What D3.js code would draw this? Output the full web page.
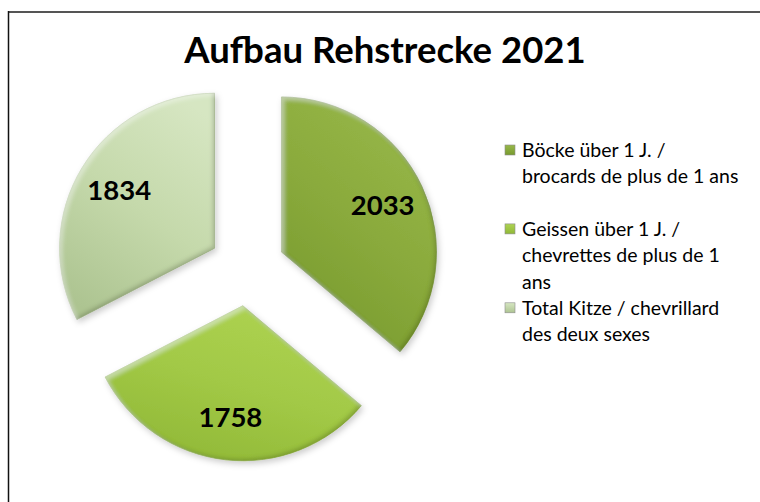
<!DOCTYPE html>
<html>
<head>
<meta charset="utf-8">
<script src="https://cdn.jsdelivr.net/npm/d3@7"></script>
<style>
  html, body { margin: 0; padding: 0; background: #fff; }
  svg { display: block; }
</style>
</head>
<body>
<svg id="chart" width="760" height="502"></svg>
<script>
// Roe deer harvest structure 2021
const title = "Aufbau Rehstrecke 2021";
const categories = ["Böcke über 1 J. / brocards de plus de 1 ans",
                    "Geissen über 1 J. / chevrettes de plus de 1 ans",
                    "Total Kitze / chevrillard des deux sexes"];
const values = [2033, 1758, 1834];
const legendLines = [
  ["Böcke über 1 J. /", "brocards de plus de 1 ans"],
  ["Geissen über 1 J. /", "chevrettes de plus de 1", "ans"],
  ["Total Kitze / chevrillard", "des deux sexes"]
];
// light / mid / dark tones per slice
const palette = [
  ["#98b84a", "#8aaa3c", "#779a2e"],
  ["#aed352", "#a2c946", "#90b837"],
  ["#d6e6c2", "#c5d9ab", "#adc491"]
];

const W = 760, H = 502;
const svg = d3.select("#chart");
const defs = svg.append("defs");

// frame (top and left edges visible)
svg.append("line").attr("x1", 8).attr("x2", W).attr("y1", 12).attr("y2", 12)
  .attr("stroke", "#555").attr("stroke-width", 2);
svg.append("line").attr("x1", 8.5).attr("x2", 8.5).attr("y1", 11).attr("y2", H)
  .attr("stroke", "#111").attr("stroke-width", 1.5);

svg.append("text")
  .attr("x", 385).attr("y", 63)
  .attr("text-anchor", "middle")
  .attr("font-family", "Lato, 'Open Sans', sans-serif")
  .attr("font-weight", 700)
  .attr("font-size", 36.5)
  .attr("fill", "#000")
  .text(title);

// gradients
palette.forEach((p, i) => {
  const g = defs.append("linearGradient").attr("id", "grad" + i)
    .attr("x1", "0.75").attr("y1", "0").attr("x2", "0.25").attr("y2", "1");
  g.append("stop").attr("offset", "0%").attr("stop-color", p[0]);
  g.append("stop").attr("offset", "50%").attr("stop-color", p[1]);
  g.append("stop").attr("offset", "100%").attr("stop-color", p[2]);
  const s = defs.append("linearGradient").attr("id", "lg" + i)
    .attr("x1", "0").attr("y1", "0").attr("x2", "0").attr("y2", "1");
  s.append("stop").attr("offset", "0%").attr("stop-color", p[0]);
  s.append("stop").attr("offset", "100%").attr("stop-color", p[2]);
});

// soft bevel: light inner edge top-left, dark inner edge bottom-right, plus a drop shadow
const f = defs.append("filter").attr("id", "bevel")
  .attr("x", "-10%").attr("y", "-10%").attr("width", "125%").attr("height", "125%");
f.append("feGaussianBlur").attr("in", "SourceAlpha").attr("stdDeviation", 2.2).attr("result", "blur");

f.append("feOffset").attr("in", "blur").attr("dx", -2.5).attr("dy", -2.5).attr("result", "bUp");
f.append("feComponentTransfer").attr("in", "bUp").attr("result", "bUpInv")
  .append("feFuncA").attr("type", "table").attr("tableValues", "1 0");
f.append("feFlood").attr("flood-color", "#2a3510").attr("flood-opacity", 0.4).attr("result", "dark");
f.append("feComposite").attr("in", "dark").attr("in2", "bUpInv").attr("operator", "in").attr("result", "darkA");
f.append("feComposite").attr("in", "darkA").attr("in2", "SourceAlpha").attr("operator", "in").attr("result", "darkEdge");

f.append("feOffset").attr("in", "blur").attr("dx", 2.5).attr("dy", 2.5).attr("result", "bDn");
f.append("feComponentTransfer").attr("in", "bDn").attr("result", "bDnInv")
  .append("feFuncA").attr("type", "table").attr("tableValues", "1 0");
f.append("feFlood").attr("flood-color", "#ffffff").attr("flood-opacity", 0.35).attr("result", "light");
f.append("feComposite").attr("in", "light").attr("in2", "bDnInv").attr("operator", "in").attr("result", "lightA");
f.append("feComposite").attr("in", "lightA").attr("in2", "SourceAlpha").attr("operator", "in").attr("result", "lightEdge");

f.append("feOffset").attr("in", "SourceAlpha").attr("dx", 2).attr("dy", 3).attr("result", "off");
f.append("feGaussianBlur").attr("in", "off").attr("stdDeviation", 3).attr("result", "offBlur");
f.append("feFlood").attr("flood-color", "#000").attr("flood-opacity", 0.2).attr("result", "sh");
f.append("feComposite").attr("in", "sh").attr("in2", "offBlur").attr("operator", "in").attr("result", "shadow");
f.append("feMerge").call(m => {
  m.append("feMergeNode").attr("in", "shadow");
  m.append("feMergeNode").attr("in", "SourceGraphic");
  m.append("feMergeNode").attr("in", "darkEdge");
  m.append("feMergeNode").attr("in", "lightEdge");
});

// pie
const cx = 247, cy = 268, R = 155, explode = 38;
const pie = d3.pie().sort(null).value(d => d);
const arcs = pie(values);
const arc = d3.arc().innerRadius(0).outerRadius(R);
const labelArc = d3.arc().innerRadius(R * 1.44).outerRadius(0);

const gPie = svg.append("g").attr("transform", `translate(${cx},${cy})`);
const slices = gPie.selectAll("g.slice").data(arcs).join("g")
  .attr("class", "slice")
  .attr("transform", d => {
    const a = (d.startAngle + d.endAngle) / 2;
    return `translate(${explode * Math.sin(a)},${-explode * Math.cos(a)})`;
  });
slices.append("path")
  .attr("d", arc)
  .attr("fill", (d, i) => `url(#grad${i})`)
  .attr("stroke", (d, i) => palette[i][2])
  .attr("stroke-width", 0.6)
  .attr("filter", "url(#bevel)");
slices.append("text")
  .attr("transform", d => `translate(${labelArc.centroid(d)})`)
  .attr("text-anchor", "middle")
  .attr("dy", "0.36em")
  .attr("font-family", "Lato, 'Open Sans', sans-serif")
  .attr("font-weight", 700)
  .attr("font-size", 27.5)
  .attr("fill", "#000")
  .text(d => d.data);

// legend
const lineH = 26.3, entryH = lineH * 3;
const legend = svg.append("g").attr("transform", "translate(505,150)");
const items = legend.selectAll("g").data(categories).join("g")
  .attr("transform", (d, i) => `translate(0,${i * entryH})`);
items.append("rect")
  .attr("x", 0).attr("y", -5).attr("width", 10).attr("height", 10)
  .attr("fill", (d, i) => `url(#lg${i})`)
  .attr("stroke", "#8c8c8c").attr("stroke-width", 0.6);
items.each(function(d, i) {
  const t = d3.select(this).append("text")
    .attr("x", 17).attr("y", 0)
    .attr("font-family", "Lato, 'Open Sans', sans-serif")
    .attr("font-size", 19.5)
    .attr("fill", "#000");
  legendLines[i].forEach((ln, k) => {
    t.append("tspan").attr("x", 17).attr("y", k * lineH).attr("dy", "0.36em").text(ln);
  });
});
</script>
</body>
</html>
